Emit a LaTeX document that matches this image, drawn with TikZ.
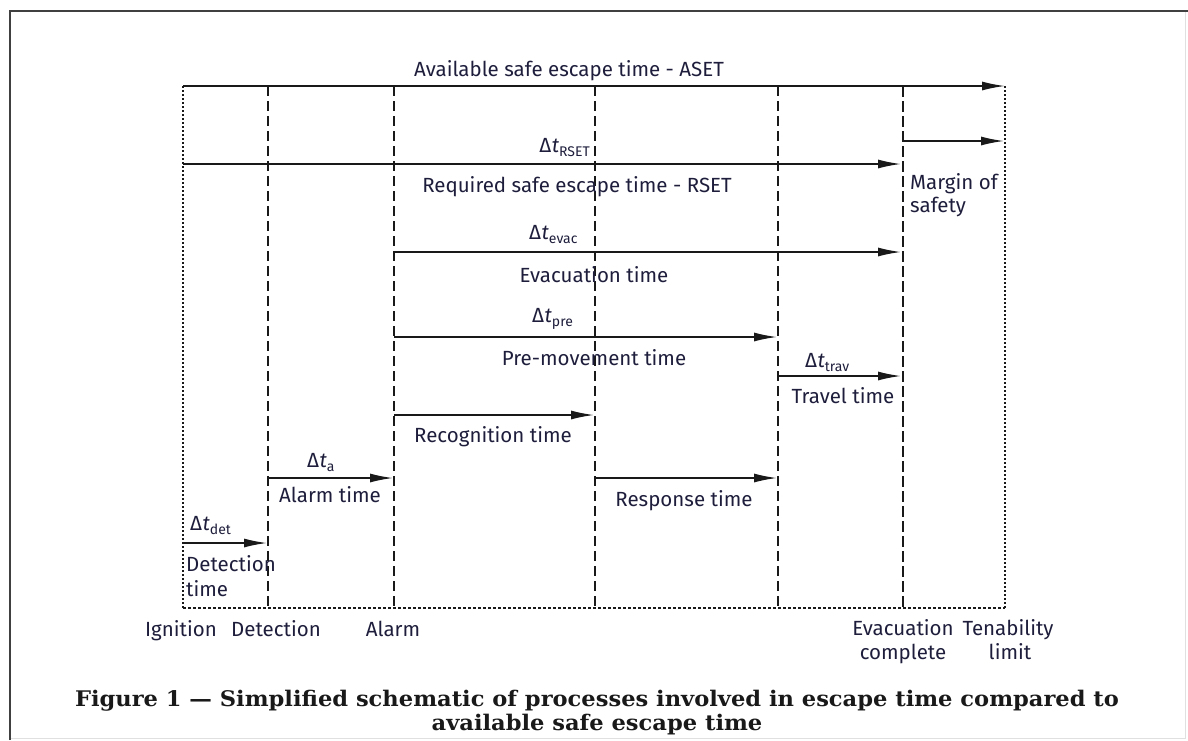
\documentclass[tikz,border=0pt]{standalone}
\usepackage{fontspec}
\setmainfont{Fira Sans}
\newfontfamily\capfont{DejaVu Serif}[FakeStretch=1.05]
\usetikzlibrary{arrows.meta}
\definecolor{ink}{RGB}{30,30,60}
\definecolor{linec}{RGB}{25,25,25}
\newcommand\dlt[1]{Δ\kern0.5pt\textit{t}\raisebox{-0.45ex}{\fontsize{14}{14}\selectfont #1}}
\begin{document}
\begin{tikzpicture}[x=1pt,y=-1pt,
  lbl/.style={font=\fontsize{20.5}{24}\selectfont, text=ink, inner sep=0pt},
  captext/.style={font=\capfont\bfseries\fontsize{21.5}{24}\selectfont, text=black!90, inner sep=0pt},
  arr/.style={draw=linec, line width=1.6pt, -{Latex[length=23pt,width=9pt]}},
  vdash/.style={draw=linec, line width=1.2pt, dash pattern=on 10pt off 5pt},
  vthick/.style={draw=linec, line width=2.8pt, dash pattern=on 11pt off 4pt},
  vdot/.style={draw=linec, line width=1.4pt, dash pattern=on 2pt off 2pt},
  frame/.style={draw=black!75, line width=2pt},
  faint/.style={draw=black!12, line width=1pt}]
\useasboundingbox (0,0) rectangle (1188,740);

% outer frame
\coordinate (fTL) at (10,11);
\coordinate (fTR) at (1188,11);
\coordinate (fBL) at (10,740);
\coordinate (gTR) at (1185,11);
\coordinate (gBR) at (1185,738);
\coordinate (gBL) at (10,738);
\draw[faint] (gTR) -- (gBR) -- (gBL);
\draw[frame] (fBL) -- (fTL) -- (fTR);

% vertical time lines
\coordinate (igT) at (183,86);  \coordinate (igB) at (183,608);
\coordinate (deT) at (268,86);  \coordinate (deB) at (268,608);
\coordinate (alT) at (394,86);  \coordinate (alB) at (394,608);
\coordinate (rsT) at (595,86);  \coordinate (rsB) at (595,608);
\coordinate (trT) at (778,86);  \coordinate (trB) at (778,608);
\coordinate (evT) at (903,86);  \coordinate (evB) at (903,608);
\coordinate (teT) at (1005,86); \coordinate (teB) at (1005,608);

\draw[vdash] (deT) -- (deB);
\draw[vdash] (alT) -- (alB);
\draw[vdash] (rsT) -- (rsB);
\draw[vdash] (trT) -- (trB);
\draw[vthick] (evT) -- (evB);
\draw[vdot, line width=1.8pt] (igT) -- (igB);
\draw[vdot, line width=1.1pt] (teT) -- (teB);
\draw[vdot, line width=1.3pt, dash pattern=on 3pt off 2pt] (igB) -- (teB);

% arrow end points
\coordinate (mgS) at (903,141);  \coordinate (mgE) at (1004,141);
\coordinate (rqS) at (183,164);  \coordinate (rqE) at (901,164);
\coordinate (evS) at (394,252);  \coordinate (evE) at (901,252);
\coordinate (prS) at (394,337);  \coordinate (prE) at (777,337);
\coordinate (tvS) at (778,376);  \coordinate (tvE) at (901,376);
\coordinate (rcS) at (394,415);  \coordinate (rcE) at (594,415);
\coordinate (amS) at (268,478);  \coordinate (amE) at (393,478);
\coordinate (rpS) at (595,478);  \coordinate (rpE) at (777,478);
\coordinate (dtS) at (183,543);  \coordinate (dtE) at (267,543);

\draw[arr] (igT) -- (teT);
\draw[arr] (mgS) -- (mgE);
\draw[arr] (rqS) -- (rqE);
\draw[arr] (evS) -- (evE);
\draw[arr] (prS) -- (prE);
\draw[arr] (tvS) -- (tvE);
\draw[arr] (rcS) -- (rcE);
\draw[arr] (amS) -- (amE);
\draw[arr] (rpS) -- (rpE);
\draw[arr] (dtS) -- (dtE);

% labels
\node[lbl, anchor=base] (aset) at (569,76) {Available safe escape time - ASET};
\node[lbl, anchor=base east] (dRset) at (590,152) {\dlt{RSET}};
\node[lbl, anchor=base] (rset) at (577,192) {Required safe escape time - RSET};
\node[lbl, anchor=base west] (mg1) at (910,189) {Margin of};
\node[lbl, anchor=base west] (mg2) at (910,212) {safety};
\node[lbl, anchor=base west] (dEvac) at (529,239) {\dlt{evac}};
\node[lbl, anchor=base] (evac) at (594,282) {Evacuation time};
\node[lbl, anchor=base west] (dPre) at (532,322) {\dlt{pre}};
\node[lbl, anchor=base] (pre) at (594,365) {Pre-movement time};
\node[lbl, anchor=base west] (dTrav) at (805,367) {\dlt{trav}};
\node[lbl, anchor=base] (trav) at (843,403) {Travel time};
\node[lbl, anchor=base] (recog) at (493,442) {Recognition time};
\node[lbl, anchor=base west] (dA) at (307,467) {\dlt{a}};
\node[lbl, anchor=base] (alarmt) at (330,502) {Alarm time};
\node[lbl, anchor=base] (resp) at (684,506) {Response time};
\node[lbl, anchor=base west] (dDet) at (190,530) {\dlt{det}};
\node[lbl, anchor=base west] (det1) at (186,571) {Detection};
\node[lbl, anchor=base west] (det2) at (186,596) {time};

\node[lbl, anchor=base] (ign) at (181,636) {Ignition};
\node[lbl, anchor=base] (detc) at (276,636) {Detection};
\node[lbl, anchor=base] (alm) at (393,636) {Alarm};
\node[lbl, anchor=base] (evc1) at (903,635) {Evacuation};
\node[lbl, anchor=base] (evc2) at (903,659) {complete};
\node[lbl, anchor=base] (ten1) at (1008,635) {Tenability};
\node[lbl, anchor=base] (ten2) at (1010,659) {limit};

\node[captext, anchor=base] (cap1) at (597,706) {Figure 1 — Simplified schematic of processes involved in escape time compared to};
\node[captext, anchor=base] (cap2) at (597,730) {available safe escape time};
\end{tikzpicture}
\end{document}
